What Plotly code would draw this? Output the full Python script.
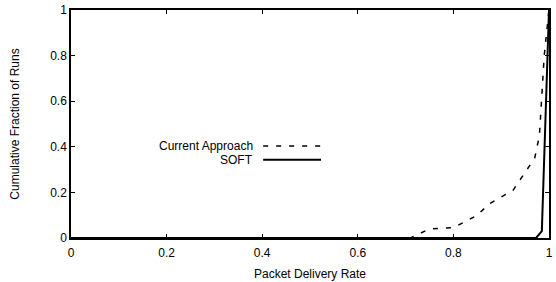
import plotly.graph_objects as go

# Data
current_x = [0.0, 0.71, 0.75, 0.80, 0.85, 0.875, 0.925, 0.95, 0.97, 0.98, 0.99, 1.0]
current_y = [0.0, 0.0, 0.04, 0.045, 0.10, 0.15, 0.21, 0.29, 0.35, 0.45, 0.80, 1.0]

soft_x = [0.0, 0.973, 0.985, 1.0]
soft_y = [0.0, 0.0, 0.03, 1.0]

x_ticks = [0, 0.2, 0.4, 0.6, 0.8, 1]
x_tick_labels = ["0", "0.2", "0.4", "0.6", "0.8", "1"]
y_ticks = [0, 0.2, 0.4, 0.6, 0.8, 1]
y_tick_labels = ["0", "0.2", "0.4", "0.6", "0.8", "1"]

series_names = ["Current Approach", "SOFT"]

FONT = "Liberation Sans, Arial, sans-serif"

fig = go.Figure()
fig.add_trace(go.Scatter(x=current_x, y=current_y, mode="lines", name=series_names[0],
                         line=dict(color="black", width=1.5, dash="5px,8px"),
                         showlegend=False, cliponaxis=False))
fig.add_trace(go.Scatter(x=soft_x, y=soft_y, mode="lines", name=series_names[1],
                         line=dict(color="black", width=2),
                         showlegend=False, cliponaxis=False))

axis_common = dict(showgrid=False, zeroline=False, showline=True, linecolor="black",
                   linewidth=1.5, mirror="ticks", ticks="inside", ticklen=4,
                   tickcolor="black", tickwidth=1,
                   tickfont=dict(family=FONT, size=12, color="black"))

fig.update_xaxes(range=[0, 1], tickvals=x_ticks, ticktext=x_tick_labels, ticklabelstandoff=3,
                 title=dict(text="Packet Delivery Rate", font=dict(family=FONT, size=12, color="black"),
                            standoff=10),
                 **axis_common)
fig.update_yaxes(range=[0, 1], tickvals=y_ticks, ticktext=y_tick_labels,
                 title=dict(text="Cumulative Fraction of Runs", font=dict(family=FONT, size=12, color="black"),
                            standoff=28),
                 **axis_common)

# Manual legend (text left of sample line)
legend_rows = [(0.404, series_names[0], dict(color="black", width=1.5, dash="5px,8px")),
               (0.343, series_names[1], dict(color="black", width=2))]
for yy, name, ln in legend_rows:
    fig.add_annotation(x=0.384, y=yy, xref="paper", yref="paper", text=name,
                       showarrow=False, xanchor="right", yanchor="middle",
                       font=dict(family=FONT, size=12, color="black"))
    fig.add_shape(type="line", xref="paper", yref="paper", x0=0.402, x1=0.523, y0=yy, y1=yy,
                  line=ln)

fig.update_layout(width=556, height=282, margin=dict(l=71, r=3, t=9, b=43),
                  paper_bgcolor="white", plot_bgcolor="white",
                  font=dict(family=FONT, size=12, color="black"))

fig.write_html("out.html", config={"displayModeBar": False},
               post_script="document.body.style.margin='0';document.body.style.overflow='hidden';")
